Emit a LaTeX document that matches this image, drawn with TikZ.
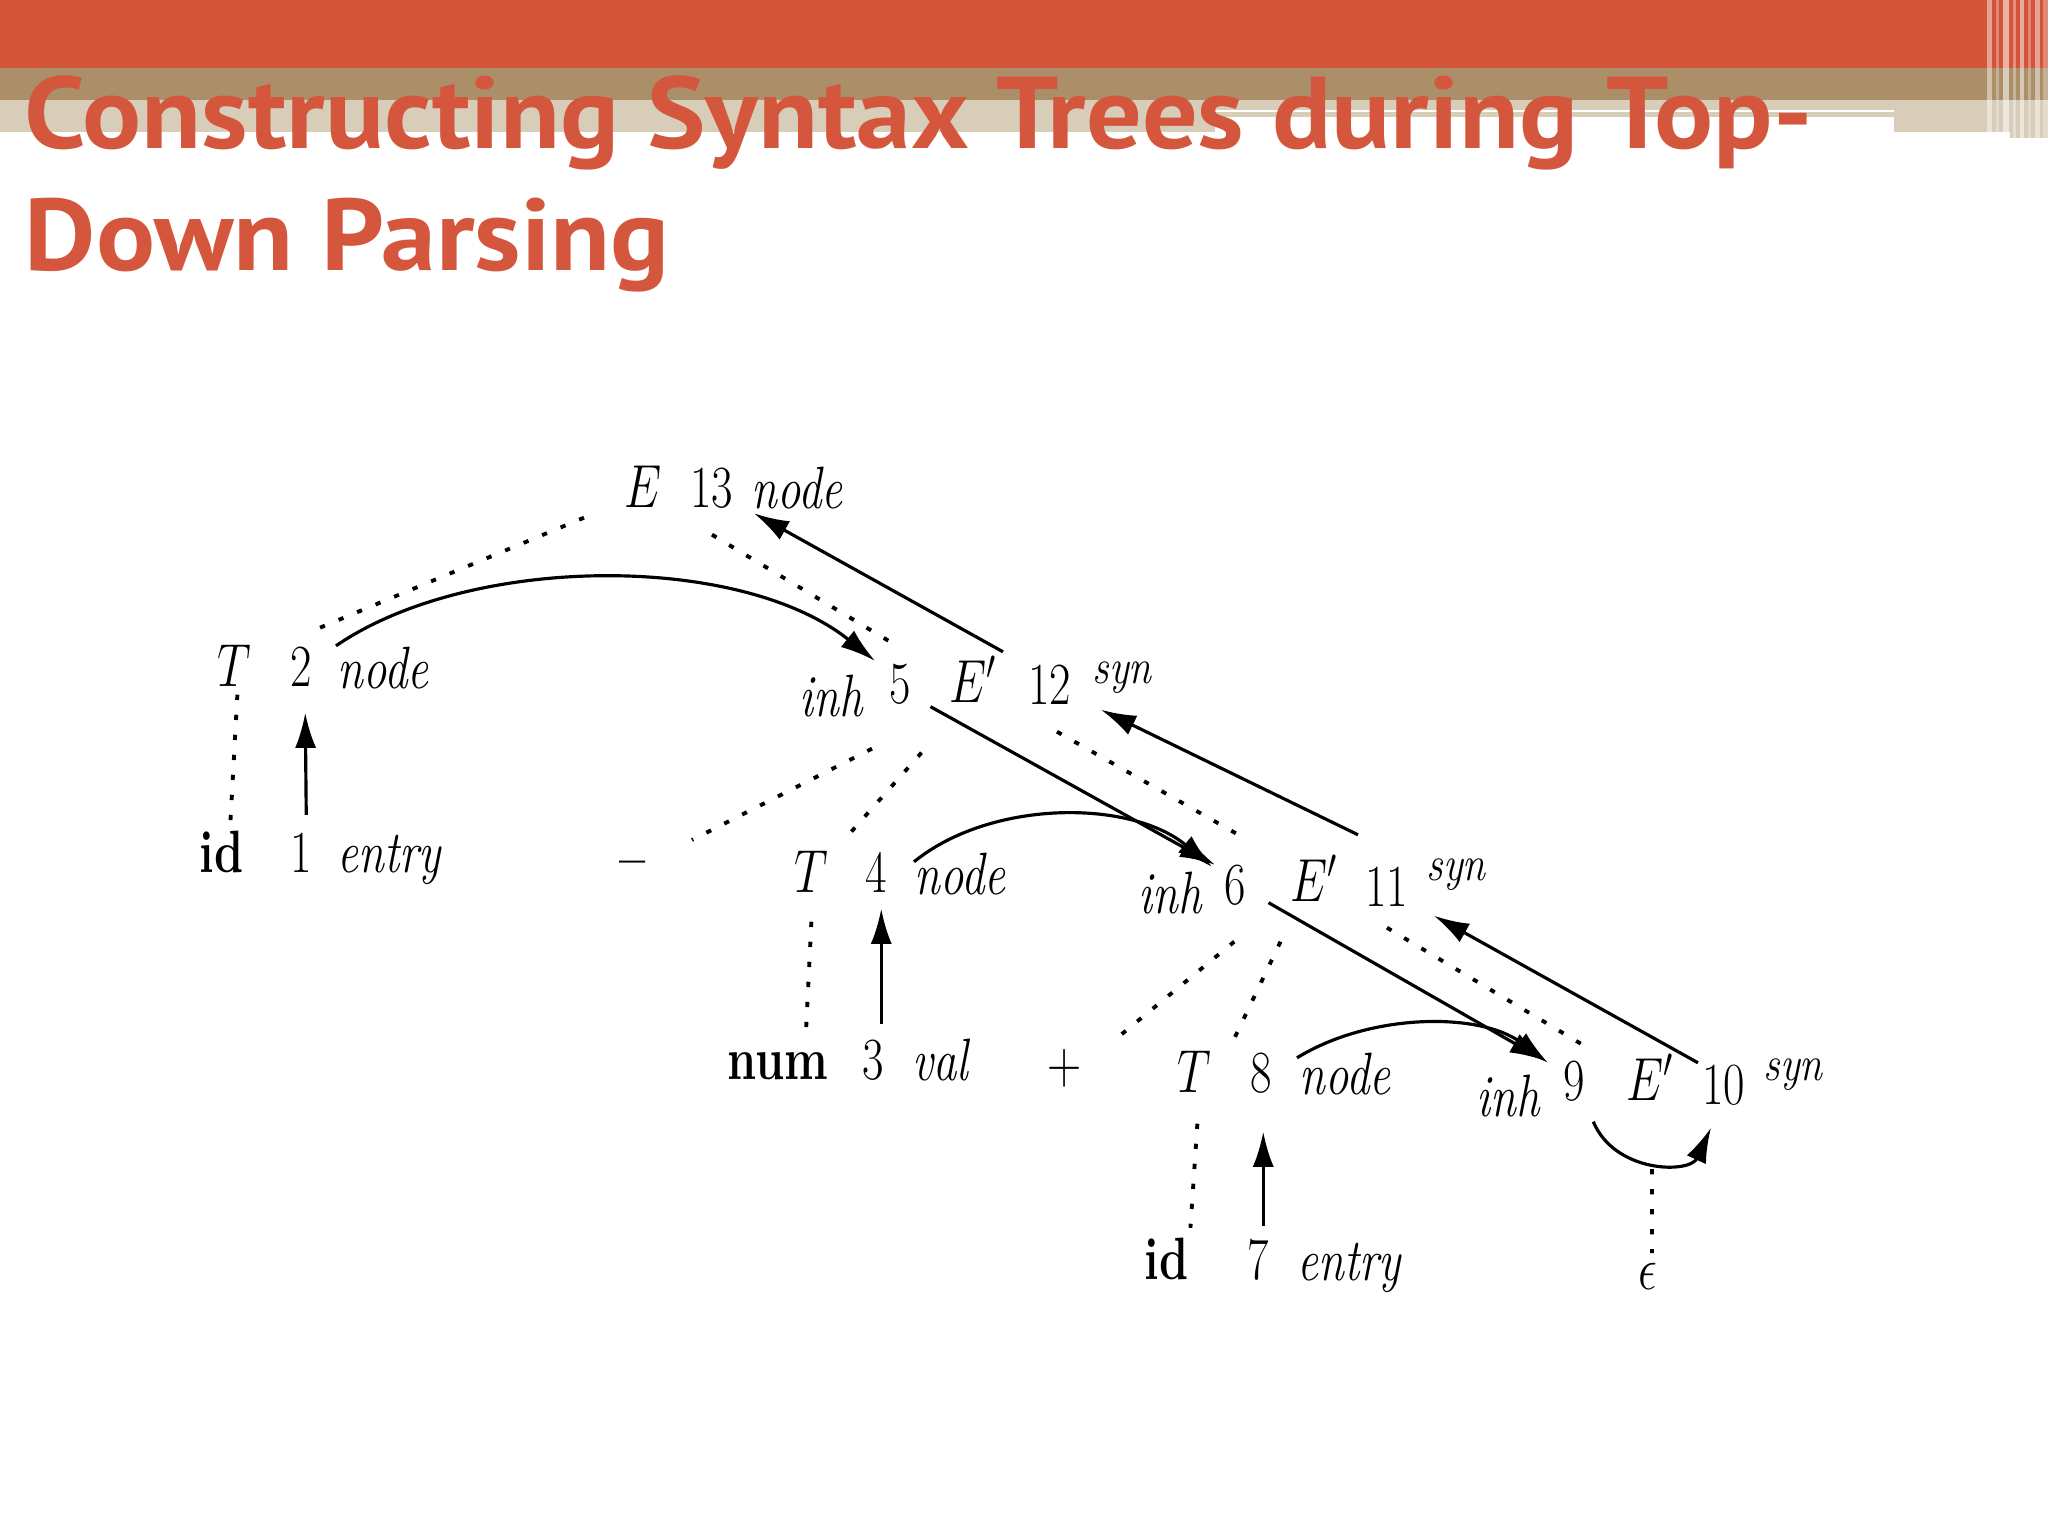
\documentclass[tikz,border=0pt]{standalone}
\usepackage{fontspec}
\usepackage{xcolor}
\usepackage{tikz}
\usetikzlibrary{arrows.meta}

\newfontfamily\slidefont{PT Sans}
\definecolor{bandred}{HTML}{D2553A}
\definecolor{bandtan}{HTML}{AB8F68}
\definecolor{bandbeige}{HTML}{D8CDB9}
\definecolor{titlered}{HTML}{D4573D}

\begin{document}
\begin{tikzpicture}[x=0.01cm, y=-0.01cm,
  title/.style={inner sep=0pt, anchor=base west, text=titlered, font=\slidefont\bfseries\fontsize{29}{32}\selectfont, xscale=1.08},
  lbl/.style={inner sep=0pt, anchor=base west, xscale=0.78, font=\fontsize{17}{20}\selectfont},
  attr/.style={lbl, font=\fontsize{17}{20}\selectfont\itshape},
  synattr/.style={lbl, xscale=1.08, font=\fontsize{14}{16}\selectfont\itshape},
  tok/.style={lbl, font=\fontsize{17}{20}\selectfont\bfseries},
  tree/.style={line width=1.1pt, dash pattern=on 1.5pt off 4.2pt},
  dep/.style={-{Latex[length=10pt, width=6pt]}, line width=0.9pt}]
\useasboundingbox (0,0) rectangle (2048,1536);

% slide header
\fill[bandred] (0,0) rectangle (2048,68);
\fill[bandtan] (0,68) rectangle (2048,100);
\fill[bandbeige] (0,100) rectangle (1215,132);
\fill[bandbeige] (1215,100) rectangle (1894,110);
\fill[bandbeige] (1215,112) rectangle (1894,117);
\fill[bandbeige] (1894,100) rectangle (2048,132);
\fill[bandbeige] (2010,132) rectangle (2048,138);
\foreach \x/\w/\o in {1987/5/0.45, 1996/3/0.3, 2003/6/0.55, 2013/3/0.35, 2020/4/0.5, 2028/3/0.3, 2035/5/0.45, 2043/5/0.3}
  \fill[white, opacity=\o] (\x,0) rectangle (\x+\w,138);

\node[title] (title1) at (24,148) {Constructing Syntax Trees during Top-};
\node[title] (title2) at (24,270) {Down Parsing};

% annotated parse tree
\node[lbl] (E) at (624,507) {$E$};
\node[lbl] (n13) at (690,507) {13};
\node[attr] (a13) at (751,508) {node};

\node[lbl] (T2) at (217,686) {$T$};
\node[lbl] (n2) at (290,686) {2};
\node[attr] (a2) at (337,688) {node};
\node[attr] (inh5) at (799,716) {inh};
\node[lbl] (n5) at (889,703) {5};
\node[lbl] (E5) at (949,702) {$E'$};
\node[lbl] (n12) at (1028,704) {12};
\node[synattr] (syn12) at (1092,683) {syn};

\node[tok] (id1) at (199,872) {id};
\node[lbl] (n1) at (290,872) {1};
\node[attr] (a1) at (337,872) {entry};
\node[lbl, anchor=center, font=\fontsize{17}{20}\selectfont\bfseries] (minus) at (633,870) {\textendash};
\node[lbl] (T4) at (794,892) {$T$};
\node[lbl] (n4) at (865,892) {4};
\node[attr] (a4) at (914,894) {node};
\node[attr] (inh6) at (1138,913) {inh};
\node[lbl] (n6) at (1224,904) {6};
\node[lbl] (E6) at (1290,901) {$E'$};
\node[lbl] (n11) at (1365,906) {11};
\node[synattr] (syn11) at (1426,880) {syn};

\node[tok] (num3) at (727,1079) {num};
\node[lbl] (n3) at (862,1079) {3};
\node[attr] (a3) at (912,1080) {val};
\node[lbl, anchor=center] (plus) at (1065,1068) {$+$};
\node[lbl] (T8) at (1177,1092) {$T$};
\node[lbl] (n8) at (1250,1092) {8};
\node[attr] (a8) at (1299,1094) {node};
\node[attr] (inh9) at (1476,1116) {inh};
\node[lbl] (n9) at (1563,1100) {9};
\node[lbl] (E9) at (1626,1100) {$E'$};
\node[lbl] (n10) at (1702,1104) {10};
\node[synattr] (syn10) at (1763,1080) {syn};

\node[tok] (id7) at (1144,1279) {id};
\node[lbl] (n7) at (1247,1279) {7};
\node[attr] (a7) at (1297,1280) {entry};
\node[lbl] (eps) at (1638,1289) {$\epsilon$};

% parse tree edges
\draw[tree] ([shift={(-40,10)}]E.south west) -- ([shift={(0,-15)}]n2.north east);
\draw[tree] ([shift={(0,26)}]n13.south) -- ([shift={(0,-15)}]n5.north);
\draw[tree] ([shift={(3,8)}]T2.south) -- ([shift={(9,-8)}]id1.north);
\draw[tree] ([shift={(-17,44)}]n5.south west) -- ([shift={(59,-30)}]minus.center);
\draw[tree] ([shift={(10,48)}]n5.south east) -- ([shift={(-16,-17)}]n4.north west);
\draw[tree] ([shift={(7,27)}]n12.south) -- ([shift={(-1,-25)}]n6.north east);
\draw[tree] ([shift={(0,29)}]T4.south) -- ([shift={(79,-20)}]num3.north west);
\draw[tree] ([shift={(-1,36)}]n6.south) -- ([shift={(52,-30)}]plus.center);
\draw[tree] ([shift={(34,36)}]n6.south east) -- ([shift={(20,-6)}]T8.north east);
\draw[tree] ([shift={(0,21)}]n11.south) -- ([shift={(-33,-49)}]E9.base west);
\draw[tree] ([shift={(3,31)}]T8.south) -- ([shift={(24,-9)}]id7.north);
\draw[tree] ([shift={(26,69)}]E9.base west) -- ([shift={(4,-9)}]eps.north);

% dependency arrows
\draw[dep] ([shift={(5,-17)}]n1.north) -- ([shift={(4,26)}]n2.south);
\draw[dep] ([shift={(-1,0)}]a2.north west) .. controls +(134,-92) and +(-135,-108) .. ([shift={(-14,-2)}]n5.north west);
\draw[dep] ([shift={(19,2)}]n5.south east) -- ([shift={(-9,1)}]n6.north west);
\draw[dep] ([shift={(8,-15)}]n3.north) -- ([shift={(5,16)}]n4.south);
\draw[dep] ([shift={(0,10)}]a4.north west) .. controls +(76,-62) and +(-82,-68) .. ([shift={(-12,3)}]n6.north west);
\draw[dep] ([shift={(22,-3)}]n6.south east) -- ([shift={(-18,1)}]n9.north west);
\draw[dep] ([shift={(5,-12)}]n7.north) -- ([shift={(2,38)}]n8.south);
\draw[dep] ([shift={(-2,6)}]a8.north west) .. controls +(73,-45) and +(-68,-51) .. ([shift={(-15,3)}]n9.north west);
\draw[dep] ([shift={(19,20)}]n9.south) .. controls +(22,52) and +(-21,46) .. ([shift={(9,22)}]n10.south west);
\draw[dep] ([shift={(-4,-1)}]n10.north west) -- ([shift={(8,25)}]syn11.south west);
\draw[dep] ([shift={(-7,-31)}]n11.north west) -- ([shift={(9,16)}]syn12.south west);
\draw[dep] ([shift={(-25,-12)}]n12.north west) -- ([shift={(3,4)}]a13.south west);
\end{tikzpicture}
\end{document}
